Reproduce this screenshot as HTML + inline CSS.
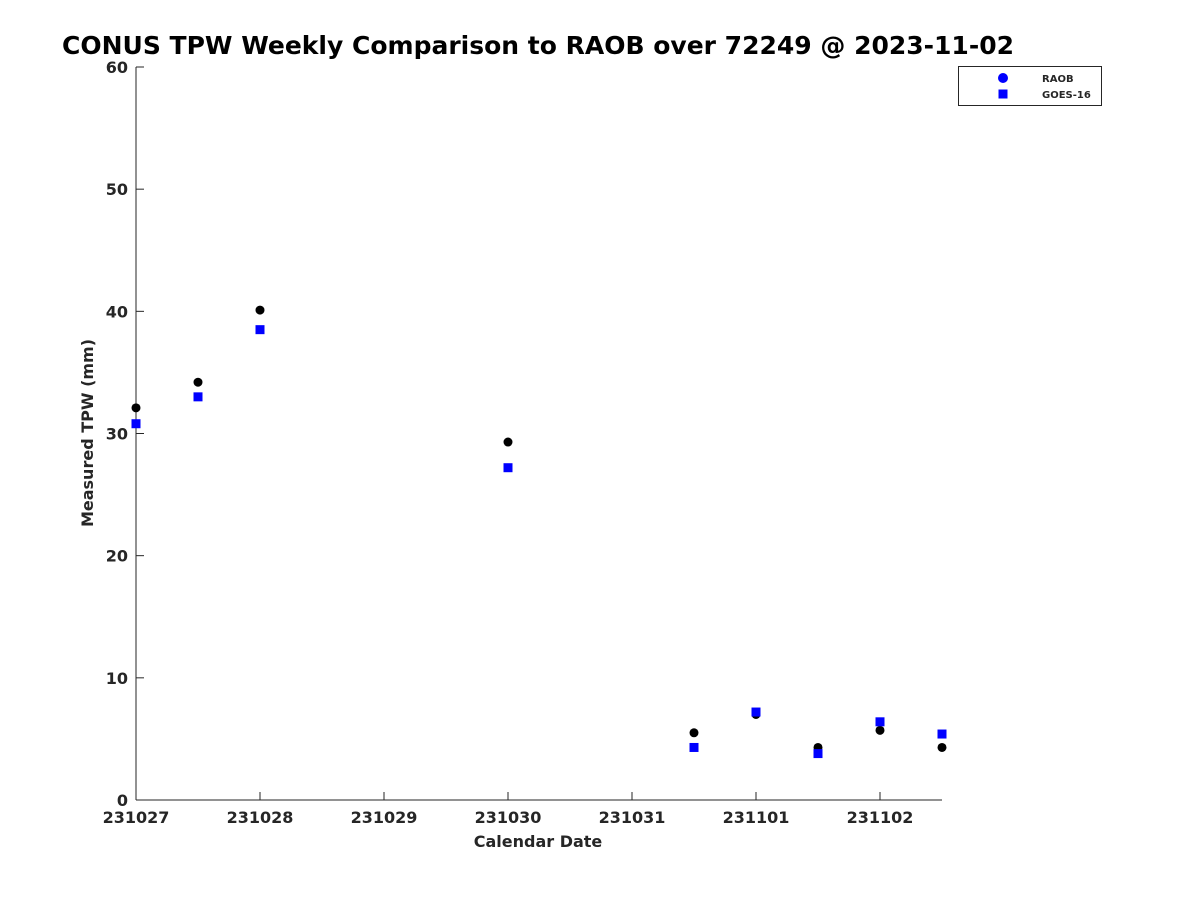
<!DOCTYPE html>
<html><head><meta charset="utf-8"><style>
body{margin:0;background:#fff;}
svg{font-family:"DejaVu Sans","Liberation Sans",sans-serif;font-weight:bold;}
</style></head><body>
<svg id="c" width="1200" height="900">
<text x="538" y="54" text-anchor="middle" font-size="25">CONUS TPW Weekly Comparison to RAOB over 72249 @ 2023-11-02</text>
<g id="axes"></g>
<g id="marks"></g>
<text x="538" y="847" text-anchor="middle" font-size="16" fill="#262626">Calendar Date</text>
<text transform="translate(93,433) rotate(-90)" text-anchor="middle" font-size="16" fill="#262626">Measured TPW (mm)</text>
<g>
<rect x="958.5" y="66.5" width="143" height="39" fill="#fff" stroke="#262626" stroke-width="1"/>
<circle cx="1003" cy="78" r="5" fill="#0000ff"/>
<text x="1042" y="82" font-size="10" fill="#262626">RAOB</text>
<rect x="998.5" y="89.5" width="9" height="9" fill="#0000ff"/>
<text x="1042" y="98" font-size="10" fill="#262626">GOES-16</text>
</g>
</svg>
<script>
const xTickLabels=["231027","231028","231029","231030","231031","231101","231102"];
const yTicks=[0,10,20,30,40,50,60];
const dayOffsets=[0,0.5,1,3,4.5,5,5.5,6,6.5];
const raobValues=[32.1,34.2,40.1,29.3,5.5,7.0,4.3,5.7,4.3];
const goesValues=[30.8,33.0,38.5,27.2,4.3,7.2,3.8,6.4,5.4];
const X0=136,X1=942,Y0=800,Y1=67;
function xs(d){return X0+(X1-X0)*d/6.5;}
function ys(v){return Y0-(Y0-Y1)*v/60;}
const NS="http://www.w3.org/2000/svg";
const ax=document.getElementById('axes'),mk=document.getElementById('marks');
function mkEl(t,a,p){const e=document.createElementNS(NS,t);for(const k in a)e.setAttribute(k,a[k]);p.appendChild(e);return e;}
let l=mkEl('line',{x1:X0,y1:Y0,x2:X1,y2:Y0,stroke:'#262626'},ax);


l=mkEl('line',{x1:X0,y1:Y0,x2:X0,y2:Y1,stroke:'#262626'},ax);


xTickLabels.forEach((s,i)=>{const x=xs(i);
mkEl('line',{x1:x,y1:Y0,x2:x,y2:Y0-8,stroke:'#262626'},ax);
const t=mkEl('text',{x:x,y:Y0+23,'text-anchor':'middle','font-size':16,fill:'#262626'},ax);t.textContent=s;

});
yTicks.forEach(v=>{const y=ys(v);
mkEl('line',{x1:X0,y1:y,x2:X0+8,y2:y,stroke:'#262626'},ax);
const t=mkEl('text',{x:X0-8,y:y+6,'text-anchor':'end','font-size':16,fill:'#262626'},ax);t.textContent=v;

});
dayOffsets.forEach((d,i)=>{
const c=mkEl('circle',{cx:xs(d),cy:ys(raobValues[i]),r:4.5,fill:'#000'},mk);

});
dayOffsets.forEach((d,i)=>{
const r=mkEl('rect',{x:xs(d)-4.5,y:ys(goesValues[i])-4.5,width:9,height:9,fill:'#0000ff'},mk);

});
</script>
</body></html>
